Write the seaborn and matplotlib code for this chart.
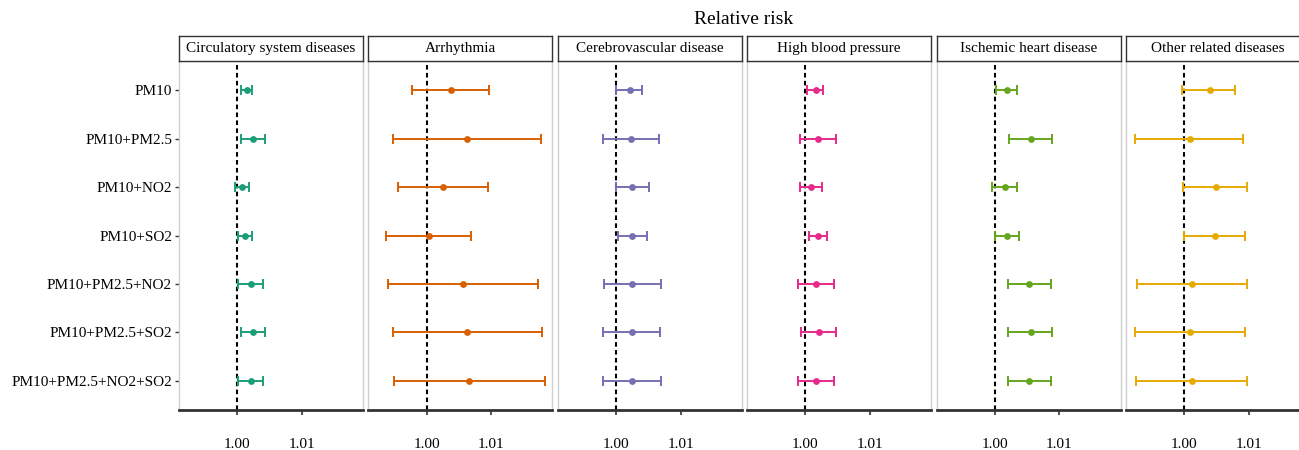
import matplotlib
matplotlib.use("Agg")
import matplotlib.pyplot as plt
import seaborn as sns
import numpy as np
import pandas as pd

sns.set_theme(style="white")
plt.rcParams['font.family'] = ['Liberation Serif', 'DejaVu Serif']

combos = ["PM10", "PM10+PM2.5", "PM10+NO2", "PM10+SO2",
          "PM10+PM2.5+NO2", "PM10+PM2.5+SO2", "PM10+PM2.5+NO2+SO2"]
diseases = ["Circulatory system diseases", "Arrhythmia", "Cerebrovascular disease",
            "High blood pressure", "Ischemic heart disease", "Other related diseases"]
colors = ["#1B9E77", "#D95F02", "#7570B3", "#E7298A", "#66A61E", "#E6AB02"]

est_circ = [1.00150, 1.00249, 1.00078, 1.00124, 1.00218, 1.00249, 1.00218]
low_circ = [1.00067, 1.00067, 0.99969, 1.00016, 1.00016, 1.00052, 1.00016]
high_circ = [1.00228, 1.00435, 1.00187, 1.00223, 1.00404, 1.00435, 1.00404]

est_arr = [1.00383, 1.00627, 1.00254, 1.00036, 1.00560, 1.00627, 1.00653]
low_arr = [0.99777, 0.99477, 0.99554, 0.99373, 0.99399, 0.99477, 0.99497]
high_arr = [1.00964, 1.01777, 1.00943, 1.00694, 1.01720, 1.01782, 1.01830]

est_cereb = [1.00216, 1.00232, 1.00253, 1.00253, 1.00253, 1.00242, 1.00253]
low_cereb = [1.00000, 0.99794, 1.00000, 1.00026, 0.99820, 0.99804, 0.99804]
high_cereb = [1.00402, 1.00665, 1.00510, 1.00474, 1.00696, 1.00680, 1.00696]

est_hbp = [1.00165, 1.00201, 1.00088, 1.00201, 1.00165, 1.00216, 1.00165]
low_hbp = [1.00021, 0.99918, 0.99918, 1.00057, 0.99892, 0.99928, 0.99892]
high_hbp = [1.00278, 1.00479, 1.00258, 1.00330, 1.00438, 1.00479, 1.00438]

est_ihd = [1.00186, 1.00562, 1.00160, 1.00186, 1.00536, 1.00562, 1.00536]
low_ihd = [1.00026, 1.00222, 0.99954, 1.00000, 1.00201, 1.00211, 1.00201]
high_ihd = [1.00350, 1.00887, 1.00350, 1.00376, 1.00871, 1.00887, 1.00871]

est_other = [1.00394, 1.00083, 1.00487, 1.00477, 1.00124, 1.00093, 1.00114]
low_other = [0.99969, 0.99238, 0.99984, 1.00000, 0.99264, 0.99238, 0.99249]
high_other = [1.00793, 1.00917, 1.00979, 1.00943, 1.00969, 1.00943, 1.00969]

x_ticks = [1.00, 1.01]
x_tick_labels = ["1.00", "1.01"]

series = [(est_circ, low_circ, high_circ), (est_arr, low_arr, high_arr),
          (est_cereb, low_cereb, high_cereb), (est_hbp, low_hbp, high_hbp),
          (est_ihd, low_ihd, high_ihd), (est_other, low_other, high_other)]

W, H = 1299, 450
fig = plt.figure(figsize=(W / 100, H / 100), dpi=100)

panel_left0 = 179
panel_w = 184
panel_step = 189.4
panel_top = 61
panel_bottom = 410
strip_top = 36

for i, (dis, col, (est, lo, hi)) in enumerate(zip(diseases, colors, series)):
    left = panel_left0 + i * panel_step
    ax = fig.add_axes([left / W, (H - panel_bottom) / H, panel_w / W,
                       (panel_bottom - panel_top) / H])
    df = pd.DataFrame({"combo": combos, "pos": np.arange(len(combos)),
                       "est": est, "low": lo, "high": hi})
    ax.axvline(1.0, color="black", linestyle=(0, (2.2, 1.6)), linewidth=1.5, zorder=1)
    ax.errorbar(df["est"], df["pos"],
                xerr=[df["est"] - df["low"], df["high"] - df["est"]],
                fmt="none", ecolor=col, elinewidth=1.4, capsize=3.5,
                capthick=1.4, zorder=2)
    sns.scatterplot(data=df, x="est", y="pos", color=col, s=24,
                    edgecolor=col, linewidth=0, ax=ax, zorder=3, legend=False)
    ax.set_xlim(0.9910, 1.01947)
    ax.set_ylim(6.6, -0.6)
    ax.set_xticks(x_ticks)
    ax.set_xticklabels(x_tick_labels, fontsize=11, color="black")
    ax.tick_params(axis="x", direction="out", length=3.5, width=1.2,
                   color="#333333", pad=17, bottom=True)
    ax.set_xlabel("")
    ax.set_ylabel("")
    ax.set_yticks(range(len(combos)))
    if i == 0:
        ax.set_yticklabels(combos, fontsize=11, color="black")
        ax.tick_params(axis="y", direction="out", length=3, width=1.0,
                       color="#333333", pad=2, left=True)
    else:
        ax.set_yticklabels([])
        ax.tick_params(axis="y", length=0, left=False)
    for side in ["left", "right", "top"]:
        ax.spines[side].set_color("#d0d0d0")
        ax.spines[side].set_linewidth(1.0)
    ax.spines["bottom"].set_color("#333333")
    ax.spines["bottom"].set_linewidth(2.0)
    ax.grid(False)
    ax.set_facecolor("white")

    sax = fig.add_axes([left / W, (H - panel_top) / H, panel_w / W,
                        (panel_top - strip_top) / H])
    sax.set_xticks([])
    sax.set_yticks([])
    for side in sax.spines.values():
        side.set_color("#333333")
        side.set_linewidth(1.0)
    sax.set_facecolor("white")
    sax.text(0.5, 0.5, dis, ha="center", va="center", fontsize=11,
             color="black", transform=sax.transAxes)

fig.text(744 / W, (H - 20) / H, "Relative risk", ha="center", va="center",
         fontsize=14, color="black")

fig.savefig("out.png", dpi=100, facecolor="white")
